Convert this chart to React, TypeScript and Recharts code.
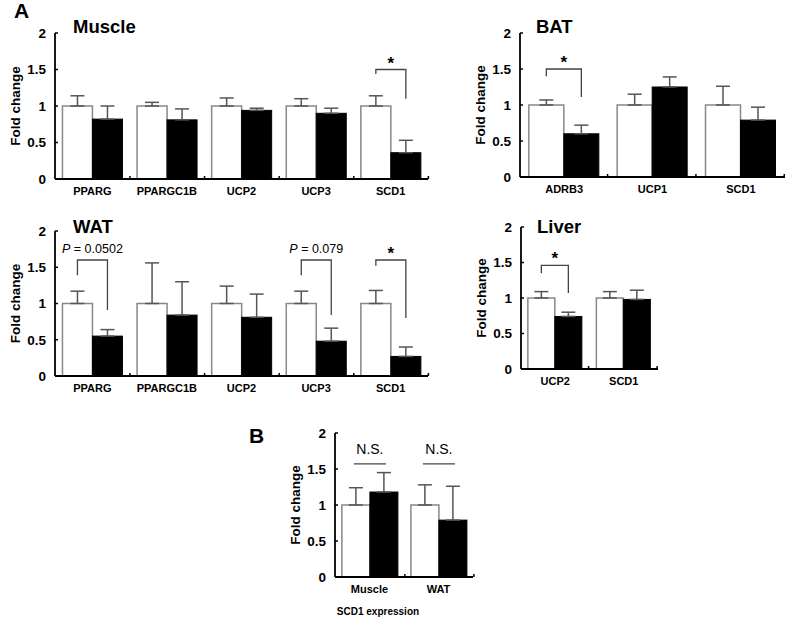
import React from 'react';
import { BarChart, Bar, XAxis, YAxis, ErrorBar } from 'recharts';

const FONT = '"Liberation Sans", Arial, Helvetica, sans-serif';
const yTicks = [0, 0.5, 1, 1.5, 2];

// ---- Muscle ----
const muscleGenes = ['PPARG', 'PPARGC1B', 'UCP2', 'UCP3', 'SCD1'];
const muscleWT = [1, 1, 1, 1, 1];
const muscleWTErr = [0.14, 0.05, 0.11, 0.1, 0.14];
const muscleKO = [0.82, 0.81, 0.94, 0.9, 0.36];
const muscleKOErr = [0.18, 0.15, 0.03, 0.07, 0.17];
const muscleMarks = [{ index: 4, kind: 'bracket', top: 1.5, leftEnd: 1.44, rightEnd: 1.1, text: '*', textY: 1.5 }];

// ---- BAT ----
const batGenes = ['ADRB3', 'UCP1', 'SCD1'];
const batWT = [1, 1, 1];
const batWTErr = [0.07, 0.15, 0.26];
const batKO = [0.6, 1.25, 0.79];
const batKOErr = [0.12, 0.14, 0.18];
const batMarks = [{ index: 0, kind: 'bracket', top: 1.5, leftEnd: 1.4, rightEnd: 1.11, text: '*', textY: 1.5 }];

// ---- WAT ----
const watGenes = ['PPARG', 'PPARGC1B', 'UCP2', 'UCP3', 'SCD1'];
const watWT = [1, 1, 1, 1, 1];
const watWTErr = [0.17, 0.56, 0.24, 0.17, 0.18];
const watKO = [0.55, 0.84, 0.81, 0.48, 0.27];
const watKOErr = [0.09, 0.46, 0.32, 0.18, 0.13];
const watMarks = [
  { index: 0, kind: 'bracket', top: 1.6, leftEnd: 1.39, rightEnd: 0.91, text: '0.0502', textY: 1.7 },
  { index: 3, kind: 'bracket', top: 1.6, leftEnd: 1.39, rightEnd: 0.84, text: '0.079', textY: 1.7 },
  { index: 4, kind: 'bracket', top: 1.6, leftEnd: 1.52, rightEnd: 0.8, text: '*', textY: 1.6 },
];

// ---- Liver ----
const liverGenes = ['UCP2', 'SCD1'];
const liverWT = [1, 1];
const liverWTErr = [0.09, 0.09];
const liverKO = [0.74, 0.98];
const liverKOErr = [0.06, 0.13];
const liverMarks = [{ index: 0, kind: 'bracket', top: 1.46, leftEnd: 1.35, rightEnd: 1.07, text: '*', textY: 1.46 }];

// ---- B: SCD1 expression ----
const bTissues = ['Muscle', 'WAT'];
const bWT = [1, 1];
const bWTErr = [0.24, 0.28];
const bKO = [1.18, 0.79];
const bKOErr = [0.27, 0.47];
const bMarks = [
  { index: 0, kind: 'ns', top: 1.57, text: 'N.S.', textY: 1.71 },
  { index: 1, kind: 'ns', top: 1.57, text: 'N.S.', textY: 1.71 },
];

type Mark = { index: number; kind: string; top: number; leftEnd?: number; rightEnd?: number; text: string; textY: number };

const makeWhiteShape = (marks: Mark[]) => (props: any) => {
  const { x, y, width, height, index, payload } = props;
  const base = y + height;
  const unit = height / payload.wt;
  const toY = (v: number) => base - v * unit;
  const m = marks.find((mm) => mm.index === index);
  const lx = x + width / 2;
  const rx = x + width * 1.5;
  let extra: any = null;
  if (m) {
    const cx = (lx + rx) / 2;
    let txt: any;
    if (m.text === '*') {
      txt = (
        <text x={cx} y={toY(m.textY) - 1} textAnchor="middle" fontSize={17} fontWeight="bold" fontFamily={FONT} fill="#000">
          *
        </text>
      );
    } else if (m.kind === 'ns') {
      txt = (
        <text x={cx} y={toY(m.textY)} textAnchor="middle" fontSize={14} fontFamily={FONT} fill="#000">
          {m.text}
        </text>
      );
    } else {
      txt = (
        <text x={cx} y={toY(m.textY)} textAnchor="middle" fontSize={12.5} fontFamily={FONT} fill="#000">
          <tspan fontStyle="italic">P</tspan>
          {' = ' + m.text}
        </text>
      );
    }
    if (m.kind === 'ns') {
      extra = (
        <g>
          <line x1={lx - 2} x2={rx + 2} y1={toY(m.top)} y2={toY(m.top)} stroke="#444" strokeWidth={1.3} />
          {txt}
        </g>
      );
    } else {
      extra = (
        <g>
          <polyline
            points={`${lx},${toY(m.leftEnd as number)} ${lx},${toY(m.top)} ${rx},${toY(m.top)} ${rx},${toY(m.rightEnd as number)}`}
            fill="none"
            stroke="#444"
            strokeWidth={1.3}
          />
          {txt}
        </g>
      );
    }
  }
  return (
    <g>
      <rect x={x} y={y} width={width} height={height} fill="#fff" stroke="#888" strokeWidth={1.5} />
      {extra}
    </g>
  );
};

const blackShape = (props: any) => {
  const { x, y, width, height } = props;
  const boundary = x + width * 1.25;
  const base = y + height;
  return (
    <g>
      <rect x={x} y={y} width={width} height={height} fill="#000" stroke="#000" strokeWidth={1} />
      <line x1={boundary} x2={boundary} y1={base} y2={base - 3} stroke="#000" strokeWidth={1.5} />
    </g>
  );
};

const foldLabel = (props: any) => {
  const vb = props.viewBox;
  const cx = vb.x + vb.width - 40;
  const cy = vb.y + vb.height / 2;
  return (
    <text
      x={cx}
      y={cy}
      transform={`rotate(-90, ${cx}, ${cy})`}
      textAnchor="middle"
      dominantBaseline="central"
      fontSize={13.5}
      fontWeight="bold"
      fontFamily={FONT}
      fill="#000"
    >
      Fold change
    </text>
  );
};

type PanelProps = {
  cats: string[];
  wt: number[];
  wtErr: number[];
  ko: number[];
  koErr: number[];
  marks: Mark[];
  left: number;
  top: number;
  width: number;
  height: number;
  marginTop: number;
  marginRight: number;
  yAxisWidth: number;
};

function Panel(p: PanelProps) {
  const data = p.cats.map((c, i) => ({
    cat: c,
    wt: p.wt[i],
    ko: p.ko[i],
    wtErr: [0, p.wtErr[i]],
    koErr: [0, p.koErr[i]],
  }));
  return (
    <div style={{ position: 'absolute', left: p.left, top: p.top, width: p.width, height: p.height }}>
      <BarChart
        width={p.width}
        height={p.height}
        data={data}
        margin={{ top: p.marginTop, right: p.marginRight, bottom: 0, left: 0 }}
        barCategoryGap="10%"
        barGap={0}
      >
        <XAxis
          dataKey="cat"
          height={26}
          axisLine={{ stroke: '#000', strokeWidth: 1.8 }}
          tickLine={false}
          tickSize={6}
          tickMargin={2}
          interval={0}
          tick={{ fontSize: 11, fontWeight: 'bold', fill: '#000', fontFamily: FONT }}
        />
        <YAxis
          width={p.yAxisWidth}
          domain={[0, 2]}
          ticks={yTicks}
          interval={0}
          axisLine={{ stroke: '#000', strokeWidth: 1.8 }}
          tickLine={{ stroke: '#000', strokeWidth: 1.5 }}
          tickSize={-3}
          tickMargin={12}
          tick={{ fontSize: 13.5, fontWeight: 'bold', fill: '#000', fontFamily: FONT }}
          label={{ content: foldLabel }}
        />
        <Bar dataKey="wt" isAnimationActive={false} shape={makeWhiteShape(p.marks)}>
          <ErrorBar dataKey="wtErr" width={7} stroke="#555" strokeWidth={1.5} direction="y" />
        </Bar>
        <Bar dataKey="ko" isAnimationActive={false} shape={blackShape}>
          <ErrorBar dataKey="koErr" width={7} stroke="#555" strokeWidth={1.5} direction="y" />
        </Bar>
      </BarChart>
    </div>
  );
}

const titles = [
  { text: 'A', x: 14, y: 18, size: 21 },
  { text: 'Muscle', x: 73, y: 33, size: 18.5 },
  { text: 'BAT', x: 536, y: 33, size: 18.5 },
  { text: 'WAT', x: 73, y: 233, size: 18.5 },
  { text: 'Liver', x: 537, y: 233, size: 18.5 },
  { text: 'B', x: 249, y: 443, size: 21 },
];

export default function App() {
  return (
    <div style={{ position: 'absolute', left: 0, top: 0, width: 789, height: 621, background: '#fff', overflow: 'hidden' }}>
      <Panel cats={muscleGenes} wt={muscleWT} wtErr={muscleWTErr} ko={muscleKO} koErr={muscleKOErr} marks={muscleMarks}
        left={0} top={0} width={440} height={205} marginTop={33} marginRight={12} yAxisWidth={55} />
      <Panel cats={batGenes} wt={batWT} wtErr={batWTErr} ko={batKO} koErr={batKOErr} marks={batMarks}
        left={440} top={0} width={349} height={203} marginTop={33} marginRight={4} yAxisWidth={80} />
      <Panel cats={watGenes} wt={watWT} wtErr={watWTErr} ko={watKO} koErr={watKOErr} marks={watMarks}
        left={0} top={200} width={440} height={202} marginTop={31} marginRight={12} yAxisWidth={55} />
      <Panel cats={liverGenes} wt={liverWT} wtErr={liverWTErr} ko={liverKO} koErr={liverKOErr} marks={liverMarks}
        left={440} top={200} width={349} height={195} marginTop={27} marginRight={131} yAxisWidth={81} />
      <Panel cats={bTissues} wt={bWT} wtErr={bWTErr} ko={bKO} koErr={bKOErr} marks={bMarks}
        left={200} top={400} width={300} height={203} marginTop={33} marginRight={27} yAxisWidth={135} />
      <svg width={789} height={621} style={{ position: 'absolute', left: 0, top: 0, pointerEvents: 'none' }}>
        {titles.map((t) => (
          <text key={t.text} x={t.x} y={t.y} fontSize={t.size} fontWeight="bold" fontFamily={FONT} fill="#000">
            {t.text}
          </text>
        ))}
        <text x={378} y={615} textAnchor="middle" fontSize={10} fontWeight="bold" fontFamily={FONT} fill="#000">
          SCD1 expression
        </text>
      </svg>
    </div>
  );
}
